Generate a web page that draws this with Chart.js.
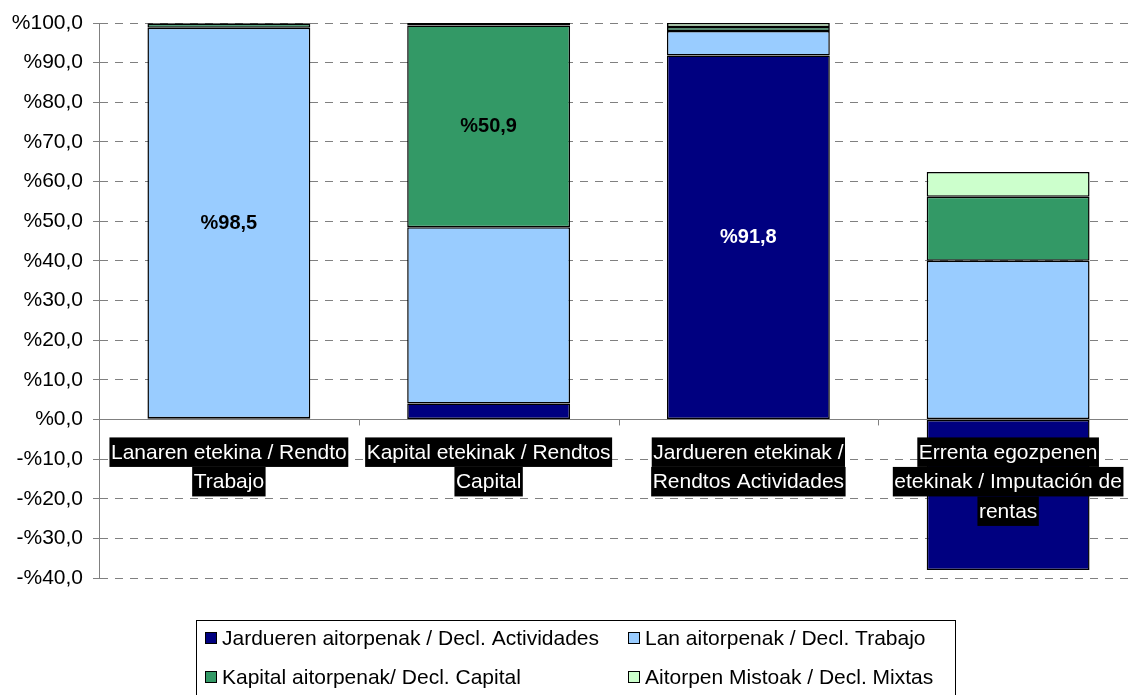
<!DOCTYPE html>
<html>
<head>
<meta charset="utf-8">
<script src="https://cdn.jsdelivr.net/npm/chart.js@4.4.1/dist/chart.umd.min.js"></script>
<style>
  html, body { margin: 0; padding: 0; background: #fff; overflow: hidden; }
  #wrap { width: 1140px; height: 695px; }
</style>
</head>
<body>
<div id="wrap"><canvas id="barCanvas" width="1140" height="695"></canvas></div>
<script>
const categories = [
    ["Lanaren etekina / Rendto", "Trabajo"],
    ["Kapital etekinak / Rendtos", "Capital"],
    ["Jardueren etekinak /", "Rendtos Actividades"],
    ["Errenta egozpenen", "etekinak / Imputación de", "rentas"]
];
const seriesNames = [
    "Jardueren aitorpenak / Decl. Actividades",
    "Lan aitorpenak / Decl. Trabajo",
    "Kapital aitorpenak/ Decl. Capital",
    "Aitorpen Mistoak / Decl. Mixtas"
];
const jarduerenValues = [0.3, 4.0, 91.8, -38.0];
const lanValues = [98.5, 44.5, 6.2, 40.0];
const kapitalValues = [1.0, 50.9, 1.0, 16.2];
const mistoakValues = [0.2, 0.6, 1.0, 6.2];
const yTicks = [-40, -30, -20, -10, 0, 10, 20, 30, 40, 50, 60, 70, 80, 90, 100];

const colors = ["#000080", "#99CCFF", "#339966", "#CCFFCC"];
const FONT = "'Liberation Sans', Arial, sans-serif";
const SIZE = 21;

function pct(v) {
    const s = Math.abs(v).toFixed(1).replace(".", ",");
    return (v < 0 ? "-%" : "%") + s;
}

// value labels on the big segments
const valueLabels = {
    id: "valueLabels",
    afterDatasetsDraw(chart) {
        const ctx = chart.ctx;
        ctx.save();
        ctx.font = "bold 20px " + FONT;
        ctx.textAlign = "center";
        ctx.textBaseline = "middle";
        chart.data.datasets.forEach((ds, di) => {
            chart.getDatasetMeta(di).data.forEach((bar, i) => {
                const v = ds.data[i];
                if (v > 50) {
                    const c = bar.getCenterPoint();
                    ctx.fillStyle = di === 0 ? "#fff" : "#000";
                    ctx.fillText(pct(v), c.x, c.y);
                }
            });
        });
        ctx.restore();
    }
};

// category labels on the zero line, white text on black boxes
const categoryLabels = {
    id: "categoryLabels",
    afterDraw(chart) {
        const ctx = chart.ctx;
        const x = chart.scales.x, y = chart.scales.y;
        const y0 = y.getPixelForValue(0);
        const half = (x.getPixelForValue(1) - x.getPixelForValue(0)) / 2;
        ctx.save();
        // tick marks on zero line
        ctx.strokeStyle = "#808080";
        ctx.lineWidth = 1;
        for (let i = 0; i < categories.length; i++) {
            const bx = Math.round(x.getPixelForValue(i) + half) + 0.5;
            ctx.beginPath();
            ctx.moveTo(bx, y0);
            ctx.lineTo(bx, y0 + 6);
            ctx.stroke();
        }
        ctx.font = SIZE + "px " + FONT;
        ctx.textAlign = "center";
        ctx.textBaseline = "middle";
        const lh = 29.5;
        categories.forEach((lines, i) => {
            const cx = x.getPixelForValue(i);
            lines.forEach((t, k) => {
                const top = y0 + 18 + k * lh;
                const w = ctx.measureText(t).width + 3;
                ctx.fillStyle = "#000";
                ctx.fillRect(cx - w / 2, top, w, lh);
                ctx.fillStyle = "#fff";
                ctx.fillText(t, cx, top + lh / 2 + 1);
            });
        });
        ctx.restore();
    }
};

// boxed legend, two columns
const boxLegend = {
    id: "boxLegend",
    afterDraw(chart) {
        const ctx = chart.ctx;
        ctx.save();
        ctx.strokeStyle = "#000";
        ctx.lineWidth = 1;
        ctx.strokeRect(196.5, 620.5, 759, 80);
        ctx.font = SIZE + "px " + FONT;
        ctx.textBaseline = "middle";
        ctx.textAlign = "left";
        const cols = [205, 628], rows = [638, 677];
        chart.data.datasets.forEach((ds, i) => {
            const lx = cols[i % 2], ly = rows[Math.floor(i / 2)];
            ctx.fillStyle = ds.backgroundColor;
            ctx.fillRect(lx, ly - 6, 12, 12);
            ctx.strokeRect(lx + 0.5, ly - 5.5, 11, 11);
            ctx.fillStyle = "#000";
            ctx.fillText(ds.label, lx + 17, ly + 1);
        });
        ctx.restore();
    }
};

const seriesValues = [jarduerenValues, lanValues, kapitalValues, mistoakValues];

new Chart(document.getElementById("barCanvas"), {
    type: "bar",
    data: {
        labels: categories,
        datasets: seriesValues.map((vals, i) => ({
            label: seriesNames[i],
            data: vals,
            backgroundColor: colors[i],
            borderColor: "#000",
            borderWidth: 1.5,
            borderSkipped: false,
            categoryPercentage: 1,
            barPercentage: 0.627
        }))
    },
    options: {
        responsive: false,
        animation: false,
        layout: { padding: { top: 23, bottom: 117, left: 0, right: 2 } },
        plugins: {
            legend: { display: false },
            tooltip: { enabled: false }
        },
        scales: {
            x: {
                stacked: true,
                display: false
            },
            y: {
                stacked: true,
                min: -40,
                max: 100,
                afterBuildTicks: (scale) => {
                    scale.ticks = yTicks.map(v => ({ value: v }));
                },
                afterFit: (scale) => { scale.width = 99; },
                ticks: {
                    color: "#000",
                    font: { family: FONT, size: SIZE },
                    padding: 10,
                    callback: (v) => pct(v)
                },
                grid: {
                    color: "#808080",
                    lineWidth: 1,
                    tickLength: 6,
                    tickColor: "#808080"
                },
                border: {
                    display: true,
                    color: "#808080",
                    width: 1,
                    dash: (ctx) => (ctx.tick && ctx.tick.value === 0 ? [] : [8, 7])
                }
            }
        }
    },
    plugins: [valueLabels, categoryLabels, boxLegend]
});
</script>
</body>
</html>
